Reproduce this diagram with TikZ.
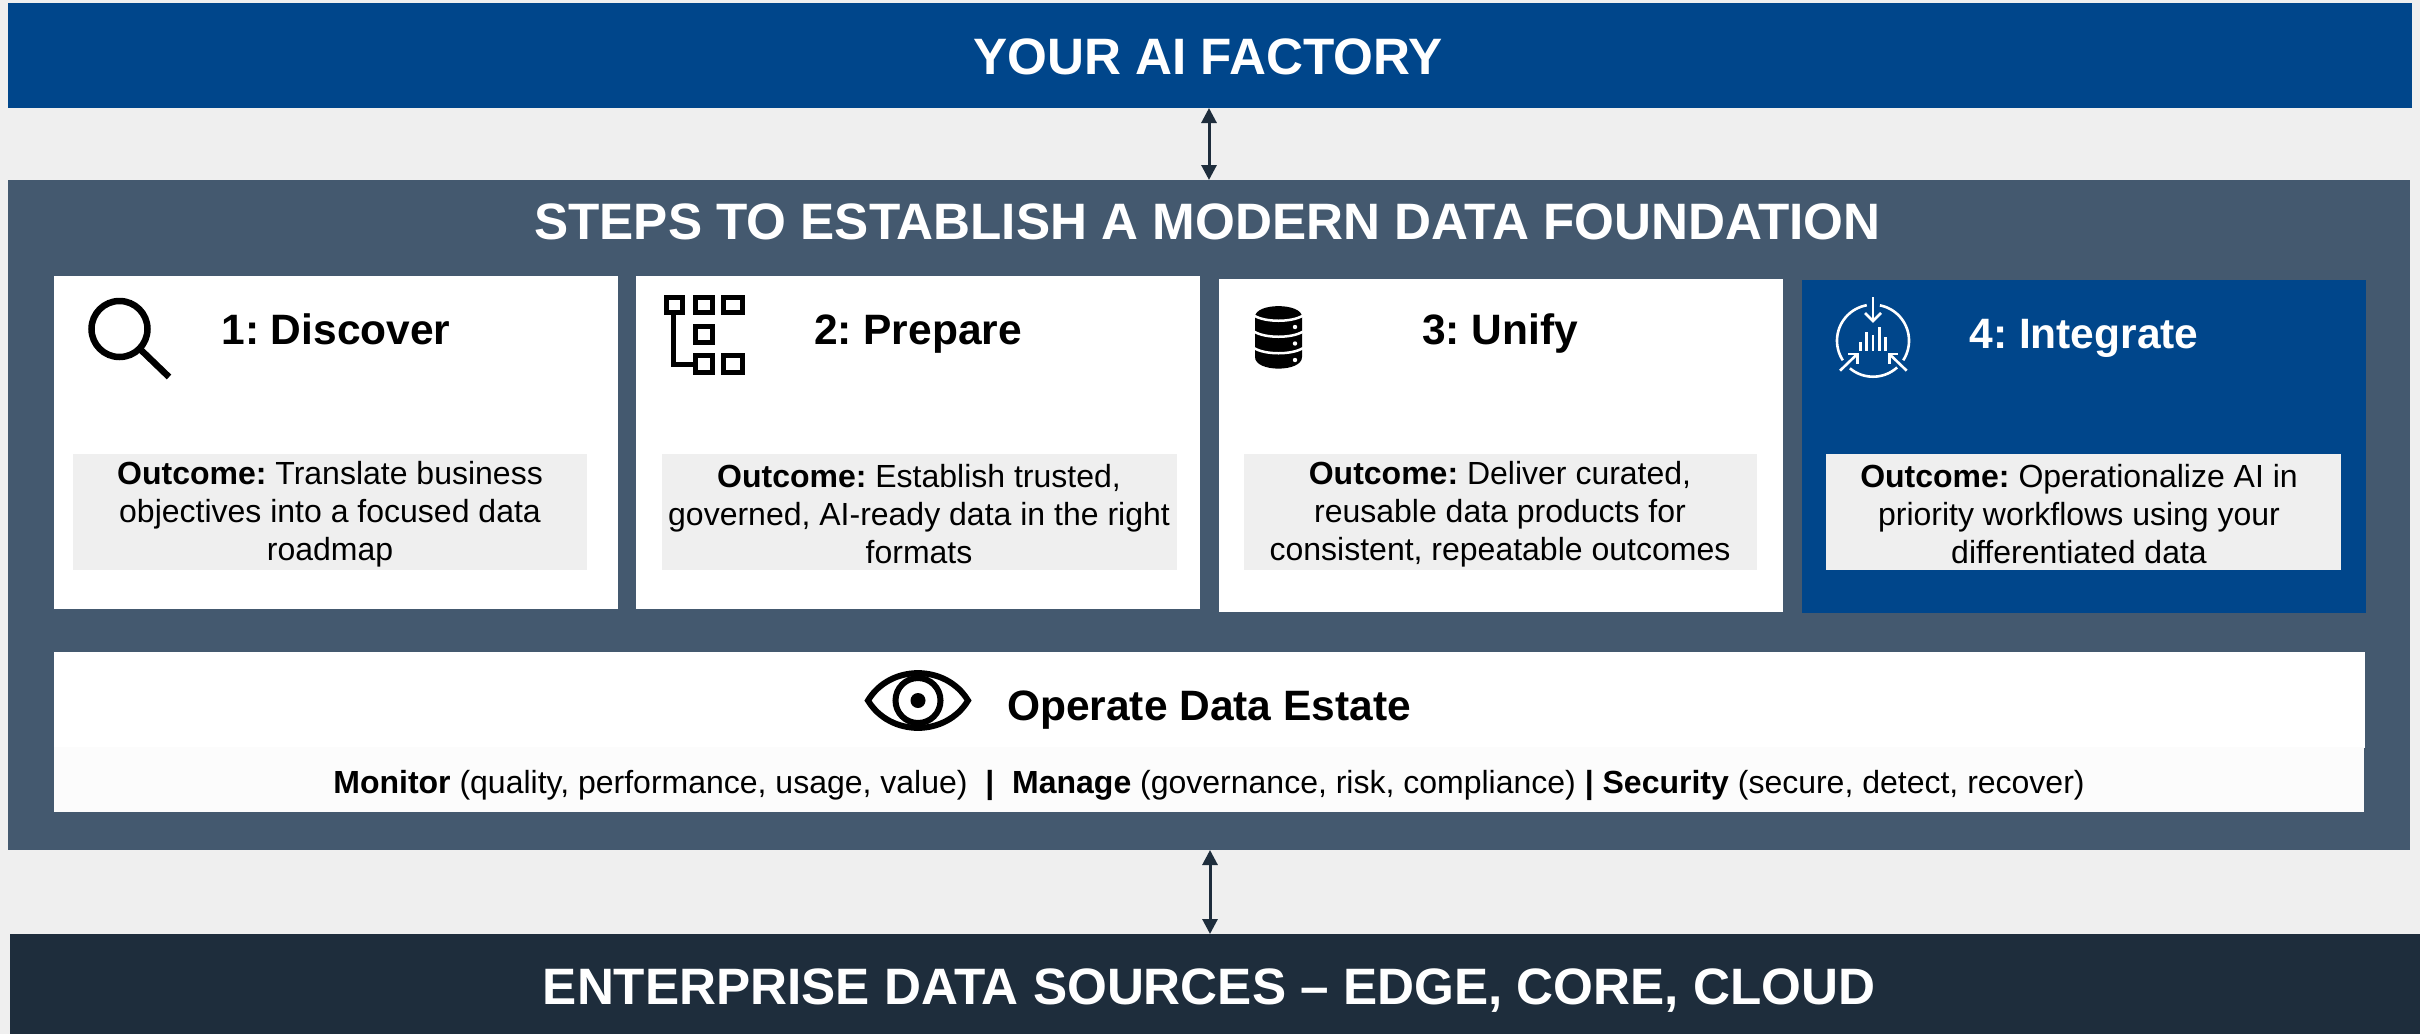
\documentclass[tikz,border=0pt]{standalone}
\usepackage{fontspec}
\setmainfont{Liberation Sans}
\frenchspacing
\usetikzlibrary{arrows.meta}
\definecolor{pagebg}{HTML}{EFEFEF}
\definecolor{factoryblue}{HTML}{00468B}
\definecolor{panelblue}{HTML}{44596F}
\definecolor{darknavy}{HTML}{1E2D3C}
\definecolor{offwhite}{HTML}{FCFCFC}
\newcommand{\pxbox}[6]{\node[#6,minimum width={(#4-#2)*1pt},minimum height={(#5-#3)*1pt},anchor=north west] (#1) at (#2,#3) {};}
\newcommand{\pxsize}[2]{\fontsize{#1}{#2}\selectfont}
\tikzset{
  x=1pt,y=-1pt,
  plainbox/.style={inner sep=0pt,outer sep=0pt,draw=none},
  whitebox/.style={plainbox,fill=white},
  bluebox/.style={plainbox,fill=factoryblue},
  greybox/.style={plainbox,fill=pagebg},
  banner/.style={text=white,font=\bfseries\pxsize{51.2}{56},inner sep=0pt,anchor=base},
  steptitle/.style={font=\bfseries\pxsize{42.5}{48},inner sep=0pt,anchor=base},
  outcome/.style={font=\frenchspacing\pxsize{32}{38},align=center,inner sep=0pt},
  link/.style={draw=darknavy,line width=3pt,{Triangle[length=15pt,width=15pt]}-{Triangle[length=15pt,width=15pt]}},
  iconline/.style={draw=black,line width=6.5pt},
  whiteicon/.style={draw=white,line width=2.6pt},
}
\begin{document}
\begin{tikzpicture}
\useasboundingbox (0,0) rectangle (2420,1034);
\fill[pagebg] (0,0) rectangle (2420,1034);
% main bands
\pxbox{factory}{8}{3}{2412}{108}{plainbox,fill=factoryblue}
\pxbox{panel}{8}{180}{2410}{850}{plainbox,fill=panelblue}
\pxbox{sources}{10}{934}{2420}{1034}{plainbox,fill=darknavy}
\node[banner] (factorytext) at (1208,74) {YOUR AI FACTORY};
\node[banner] (paneltext) at (1207.5,239) {STEPS TO ESTABLISH A MODERN DATA FOUNDATION};
\node[banner] (sourcestext) at (1209,1004) {ENTERPRISE DATA SOURCES – EDGE, CORE, CLOUD};
% connectors
\draw[link] (factory.south -| 1209,0) -- (panel.north -| 1209,0);
\draw[link] (panel.south -| 1210,0) -- (sources.north -| 1210,0);
% step cards
\pxbox{card1}{54}{276}{618}{609}{whitebox}
\pxbox{card2}{636}{276}{1200}{609}{whitebox}
\pxbox{card3}{1219}{279}{1783}{612}{whitebox}
\pxbox{card4}{1802}{280}{2366}{613}{bluebox}
\pxbox{out1}{73}{454}{587}{570}{greybox}
\pxbox{out2}{662}{454}{1177}{570}{greybox}
\pxbox{out3}{1244}{454}{1757}{570}{greybox}
\pxbox{out4}{1826}{454}{2341}{570}{greybox}
\node[steptitle] (title1) at (336,344) {1: Discover};
\node[steptitle] (title2) at (918,344) {2: Prepare};
\node[steptitle] (title3) at (1500,344) {3: Unify};
\node[steptitle,text=white] (title4) at (2084,348) {4: Integrate};
\node[outcome] (text1) at (330,514) {\textbf{Outcome:} Translate business\\objectives into a focused data\\roadmap};
\node[outcome] (text2) at (919,514) {\textbf{Outcome:} Establish trusted,\\governed, AI-ready data in the right\\formats};
\node[outcome] (text3) at (1500,514) {\textbf{Outcome:} Deliver curated,\\reusable data products for\\consistent, repeatable outcomes};
\node[outcome] (text4) at (2079,514) {\textbf{Outcome:} Operationalize AI in\\priority workflows using your\\differentiated data};
% operate box
\pxbox{operate}{54}{652}{2365}{748}{whitebox}
\pxbox{operatelow}{54}{747}{2364}{812}{plainbox,fill=offwhite}
\node[steptitle] (operatetitle) at (1209,720) {Operate Data Estate};
\node[font=\pxsize{32}{38},inner sep=0pt] (operatetext) at (1209,785) {\textbf{Monitor} (quality, performance, usage, value) \ \textbf{|} \ \textbf{Manage} (governance, risk, compliance) \textbf{|} \textbf{Security} (secure, detect, recover)};
% magnifier icon
\draw[iconline] (119.5,329) circle (28);
\draw[iconline] (141,350) -- (169,377);
% prepare icon
\begin{scope}[draw=black,line width=5pt]
\foreach \a/\b/\c/\d in {666.5/297.5/682.5/312.5,695.5/297.5/712.5/312.5,723.5/297.5/742/312.5,695.5/326.5/712.5/342.5,695.5/355.5/712.5/372.5,723.5/355.5/742/372.5}
  \draw (\a,\b) rectangle (\c,\d);
\draw (673,315) -- (673,364) -- (693,364);
\end{scope}
% database icon
\fill[black] (1255,317) .. controls (1255,302.5) and (1302,302.5) .. (1302,317) -- (1302,357) .. controls (1302,372.5) and (1255,372.5) .. (1255,357) -- cycle;
\begin{scope}[draw=white,line width=2.5pt]
\draw (1254,315.5) .. controls (1265,322.5) and (1292,322.5) .. (1303,315.5);
\draw (1254,331.5) .. controls (1265,338.5) and (1292,338.5) .. (1303,331.5);
\draw (1254,348) .. controls (1265,355) and (1292,355) .. (1303,348);
\end{scope}
\foreach \b in {327,343.5,360} \fill[white] (1295,\b) circle (2.2);
% integrate icon
\begin{scope}[whiteicon]
\draw[domain=100:213,smooth,samples=40] plot ({1873+36*cos(\x)},{340.7-36*sin(\x)});
\draw[domain=230:312,smooth,samples=40] plot ({1873+36*cos(\x)},{340.7-36*sin(\x)});
\draw[domain=-33:79,smooth,samples=40] plot ({1873+36*cos(\x)},{340.7-36*sin(\x)});
\draw (1873,297) -- (1873,321);
\draw (1865,313) -- (1873,321) -- (1881,313);
\draw (1840,370.7) -- (1857.3,354);
\draw (1848,354) -- (1857.3,354) -- (1857.3,363.5);
\draw (1906.7,370.7) -- (1889.3,354);
\draw (1898,354) -- (1889.3,354) -- (1889.3,363.5);
\end{scope}
\foreach \a/\b in {1860.5/342,1866.7/331.7,1873/335,1879.3/327.3,1885.5/336.7}
  \fill[white] (\a-1.3,\b) rectangle (\a+1.3,350.7);
% eye icon
\begin{scope}[draw=black,line width=6pt]
\draw[line join=miter] (868,700.5) .. controls (890,664) and (946,664) .. (968,700.5) .. controls (946,737) and (890,737) .. (868,700.5) -- cycle;
\draw (918,700.5) circle (22.5);
\end{scope}
\fill[black] (918,700.5) circle (7.5);
\end{tikzpicture}
\end{document}
